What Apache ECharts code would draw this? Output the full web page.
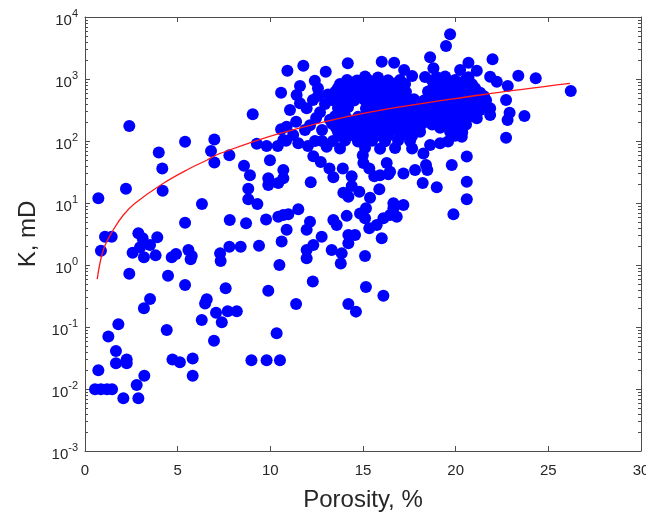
<!DOCTYPE html>
<html><head><meta charset="utf-8">
<script src="https://cdn.jsdelivr.net/npm/echarts@6/dist/echarts.min.js"></script>
<style>html,body{margin:0;padding:0;background:#fff}#c{width:646px;height:515px}</style>
</head><body><div id="c"></div>
<script>
// ---- data (porosity %, permeability mD) ----
const xTickValues = [0, 5, 10, 15, 20, 25, 30];
const yDecadeExponents = [-3, -2, -1, 0, 1, 2, 3, 4];

const lowPoints = [
 [2.39,175],[3.98,65],[5.40,97],[6.98,106],[6.80,69],[7.79,59],[9.05,269],[10.58,601],[10.92,1361],[10.58,155],
 [9.27,90],[9.80,83],[10.40,83],[10.85,101],[9.98,49],[4.17,36],[6.98,45],[8.58,40],[8.90,28],[8.81,17],
 [8.81,11.5],[9.30,9.6],[9.89,25],[9.89,19.5],[10.43,21],[0.72,11.9],[2.21,17],[4.19,15.8],[6.31,9.6],[5.40,4.8],
 [7.81,5.3],[8.69,4.7],[9.77,5.4],[10.43,6.0],[1.08,2.86],[1.44,2.86],[0.86,1.70],[2.88,3.24],[3.11,2.7],[3.90,2.8],
 [2.97,1.93],[3.51,2.1],[2.57,1.58],[3.18,1.33],[3.81,1.43],[4.68,1.33],[4.91,1.5],[5.58,1.75],[5.76,1.4],[5.70,1.24],
 [7.29,1.54],[7.32,1.16],[7.79,1.97],[8.40,1.97],[9.39,2.05],[10.49,1.0],[2.39,0.72],[4.48,0.67],[5.40,0.475],[7.59,0.42],
 [9.89,0.385],[3.51,0.283],[3.18,0.2],[6.57,0.28],[6.48,0.24],[7.07,0.17],[7.70,0.18],[8.19,0.18],[6.30,0.13],[7.38,0.119],
 [1.80,0.111],[4.41,0.0895],[10.34,0.079],[1.26,0.070],[6.96,0.060],[1.67,0.041],[1.67,0.026],[2.25,0.030],[2.25,0.026],[4.72,0.030],
 [5.12,0.027],[5.81,0.031],[5.81,0.0164],[8.98,0.029],[9.80,0.029],[10.52,0.029],[0.72,0.020],[3.20,0.0164],[2.79,0.0116],[0.54,0.0099],
 [0.86,0.0099],[1.19,0.0099],[1.46,0.0099],[2.07,0.0071],[2.88,0.0071]
];

const midPoints = [
 [12.32,57],[12.72,46],[10.70,34],[10.70,25],[13.19,36],[13.40,26],[13.91,36],[14.39,27],[14.99,59],[15.02,44],
 [15.34,36],[15.61,27],[16.37,29],[16.28,44],[17.18,30],[17.81,34],[18.40,41],[18.47,34],[19.79,41],[20.60,56],
 [18.22,21],[18.98,18],[20.60,22],[20.60,11.5],[19.88,6.6],[12.18,21.6],[13.94,14.6],[14.21,12.6],[14.39,18.8],[14.80,15.2],
 [15.38,12.2],[15.88,16.6],[16.64,9.9],[17.18,9.3],[11.51,7.9],[10.70,6.4],[10.97,6.6],[14.12,6.2],[14.84,6.8],[15.16,8.2],
 [15.11,5.7],[15.34,3.9],[15.74,4.4],[16.10,5.7],[16.46,6.4],[16.82,6.0],[16.64,8.2],[13.40,5.3],[13.58,4.4],[12.14,5.0],
 [11.96,3.7],[10.88,3.7],[10.61,2.4],[12.77,2.86],[12.32,2.1],[11.96,1.75],[11.96,1.28],[13.31,1.75],[13.85,1.54],[13.80,1.06],
 [14.21,3.05],[14.57,3.05],[14.21,2.24],[15.11,1.4],[16.01,2.7],[12.29,0.54],[15.16,0.44],[16.10,0.32],[11.39,0.235],[14.21,0.235],
 [14.62,0.177],[15.92,28],[16.46,32],[13.04,81],[19.16,92],[18.62,86],[18.26,63]
];

const highPoints = [
 [19.70,5250],[19.48,3400],[18.62,2240],[20.69,1830],[21.14,1360],[20.24,1400],[20.69,1065],[18.80,1490],[18.98,1065],[16.01,1900],
 [16.68,1830],[17.22,1400],[14.18,1790],[12.99,1310],[12.40,940],[11.78,1640],[11.60,770],[11.42,550],[11.60,405],[11.96,336],
 [11.39,205],[10.88,170],[10.70,104],[11.51,92],[21.86,1090],[21.99,2080],[20.69,800],[20.24,800],[22.22,906],[22.81,771],
 [23.38,1130],[24.32,1025],[26.21,640],[22.72,458],[22.91,286],[22.80,218],[23.71,253],[22.72,113],[21.86,336],[21.86,262],
 [21.14,232],[20.33,150],[20.33,117],[20.96,519],[20.78,431],[20.42,316],[21.32,316],[12.30,460],[12.68,290],[12.14,180],
 [12.79,150],[12.41,100],[13.11,560],[12.57,710],
 [12.57,530],[12.95,395],[12.47,235],[13.22,220],[11.87,150],[12.79,100],[12.03,83],[11.06,316],[11.23,125]
];

const clusterPoints = [
 [15.11,1100],[15.81,1060],[17.65,1120],[18.35,1080],[19.43,1100],
 [14.14,960],[14.68,950],[15.27,970],[16.35,955],[17.00,965],[18.73,950],[19.97,960],[20.51,955],
 [13.76,830],[14.41,850],[14.95,810],[15.49,840],[16.03,820],[16.73,850],[17.27,830],[19.16,800],[19.70,840],[20.88,820],
 [13.65,715],[14.30,720],[14.84,710],[15.38,715],[15.92,720],[16.46,710],[17.00,715],[18.78,720],[19.32,710],[19.86,715],
 [20.40,720],[21.05,710],
 [13.49,620],[14.09,640],[14.62,600],[15.16,630],[15.70,610],[16.24,640],[16.78,600],[17.32,620],[18.51,630],[19.05,600],
 [19.59,640],[20.13,610],[20.67,630],[21.32,600],
 [13.76,530],[14.30,535],[14.84,525],[15.38,530],[15.92,535],[16.46,525],[17.00,530],[18.73,530],
 [19.27,535],[19.81,525],[20.35,530],[20.88,535],[21.53,525],
 [13.33,460],[13.98,470],[14.52,450],[15.06,465],[15.60,455],[16.14,470],[16.68,450],[17.22,460],[17.75,470],[18.29,450],
 [18.83,465],[19.37,455],[19.91,470],[20.45,450],[21.10,460],[21.64,455],
 [13.65,395],[14.19,400],[15.27,395],[15.81,400],[16.35,390],[16.89,395],[17.43,400],[17.97,390],[18.51,395],
 [19.05,400],[19.59,390],[20.13,395],[20.78,400],[21.32,390],
 [13.65,340],[14.19,350],[15.16,335],[15.70,345],[16.24,330],[16.78,350],[17.32,340],[17.86,335],[18.40,350],[18.94,340],
 [19.48,345],[20.02,335],[20.67,340],
 [13.87,295],[15.38,295],[15.92,300],[16.46,290],[17.00,295],[17.54,300],[18.08,290],[18.62,295],
 [19.16,300],[19.70,290],[20.35,295],[20.99,300],
 [13.49,250],[14.03,255],[14.73,245],[15.27,250],[15.81,260],[16.35,245],[16.89,255],[17.43,250],[17.97,245],[18.51,255],
 [19.05,250],[19.59,245],[20.13,255],[20.78,250],
 [13.65,220],[14.19,222],[14.62,218],[15.11,220],[15.60,223],[16.14,218],[16.68,220],[17.22,222],[17.75,218],[18.29,220],
 [18.83,222],[19.37,218],[19.86,220],[20.40,222],
 [13.33,190],[13.87,185],[14.41,195],[14.95,190],[15.49,185],[16.03,195],[16.57,190],[17.11,185],[17.65,195],[18.19,190],
 [18.73,185],[19.37,190],[19.91,195],[20.56,185],
 [13.55,163],[14.09,165],[14.62,161],[15.16,163],[15.70,166],[16.24,162],[16.78,164],[17.32,163],[17.86,161],
 [19.16,163],[20.13,162],
 [13.65,140],[14.30,138],[14.84,142],[15.38,140],[15.92,137],[16.46,142],[17.00,140],[17.54,138],[18.08,141],[19.70,140],[20.35,138],
 [13.87,120],[14.52,122],[15.11,118],[15.70,120],[16.35,121],[17.00,119],[17.65,120],[19.97,121],
 [13.38,100],[14.03,102],[14.73,98],[15.49,101],[16.19,99],[16.89,102],[17.54,100],[19.59,98],
 [13.76,76],[15.11,78],[15.92,75],[16.73,77],[17.65,76]
];

const fitPorosity = [0.66, 0.99, 1.53, 2.07, 2.70, 4.23, 5.67, 6.57, 7.29, 10.52, 15.02, 21.32, 26.17];
const fitK        = [0.59, 1.75, 3.7,  6.4,  9.9,  20.8, 36.3, 49,   63,   133,   280,   552,   851];

// ---- chart ----
const FONT = '"Liberation Sans", Arial, sans-serif';
const AXIS_COLOR = '#4d4d4d';
const TEXT_COLOR = '#262626';

const scatterData = lowPoints.concat(midPoints, highPoints, clusterPoints);
const fitData = fitPorosity.map((p, i) => [p, fitK[i]]);

const minorTickValues = [];
yDecadeExponents.slice(0, -1).forEach(e => {
  for (let m = 2; m <= 9; m++) minorTickValues.push([0, m * Math.pow(10, e)]);
});

const yLabel = {
  margin: 7,
  formatter: v => '{b|10}{s|' + Math.round(Math.log10(v)) + '}',
  rich: {
    b: {fontSize: 15, fontFamily: FONT, color: TEXT_COLOR, padding: [8, 0, 0, 0]},
    s: {fontSize: 11, fontFamily: FONT, color: TEXT_COLOR, padding: [0, 0, 6, 0]}
  }
};

const baseX = {
  type: 'value', min: xTickValues[0], max: xTickValues[xTickValues.length - 1], interval: 5,
  axisLine: {show: true, onZero: false, lineStyle: {color: AXIS_COLOR, width: 1}},
  axisTick: {show: true, inside: true, length: 5, lineStyle: {color: AXIS_COLOR}},
  splitLine: {show: false}
};
const baseY = {
  type: 'log', logBase: 10, min: Math.pow(10, yDecadeExponents[0]), max: Math.pow(10, yDecadeExponents[yDecadeExponents.length - 1]),
  splitNumber: 7,
  axisLine: {show: true, onZero: false, lineStyle: {color: AXIS_COLOR, width: 1}},
  axisTick: {show: true, inside: true, length: 5, lineStyle: {color: AXIS_COLOR}},
  splitLine: {show: false}
};

const chart = echarts.init(document.getElementById('c'), null, {renderer: 'canvas'});
chart.setOption({
  animation: false,
  backgroundColor: '#ffffff',
  grid: {left: 85, right: 5, top: 17, bottom: 64, outerBoundsMode: 'none', containLabel: false},
  xAxis: [
    Object.assign({}, baseX, {
      position: 'bottom',
      axisLabel: {margin: 12, fontSize: 15, fontFamily: FONT, color: TEXT_COLOR},
      name: 'Porosity, %', nameLocation: 'middle', nameGap: 37,
      nameTextStyle: {fontSize: 24, fontFamily: FONT, color: TEXT_COLOR}
    }),
    Object.assign({}, baseX, {position: 'top', axisLabel: {show: false}})
  ],
  yAxis: [
    Object.assign({}, baseY, {
      position: 'left', axisLabel: yLabel,
      name: 'K, mD', nameLocation: 'middle', nameGap: 43, nameRotate: 90,
      nameTextStyle: {fontSize: 24, fontFamily: FONT, color: TEXT_COLOR}
    }),
    Object.assign({}, baseY, {position: 'right', axisLabel: {show: false}})
  ],
  series: [
    {
      type: 'custom', xAxisIndex: 0, yAxisIndex: 0, silent: true, clip: false, z: 1,
      data: minorTickValues,
      renderItem: (params, api) => {
        const v = api.value(1);
        const l = api.coord([xTickValues[0], v]);
        const r = api.coord([xTickValues[xTickValues.length - 1], v]);
        const y = Math.round(l[1]) + 0.5;
        return {type: 'group', children: [
          {type: 'line', shape: {x1: l[0], y1: y, x2: l[0] + 3, y2: y}, style: {stroke: AXIS_COLOR, lineWidth: 1}},
          {type: 'line', shape: {x1: r[0] - 3, y1: y, x2: r[0], y2: y}, style: {stroke: AXIS_COLOR, lineWidth: 1}}
        ]};
      }
    },
    {
      type: 'scatter', xAxisIndex: 0, yAxisIndex: 0, z: 2,
      symbol: 'circle', symbolSize: 12,
      itemStyle: {color: '#0000ff', opacity: 1},
      data: scatterData
    },
    {
      type: 'line', xAxisIndex: 0, yAxisIndex: 0, z: 3,
      smooth: 0.4, showSymbol: false, symbol: 'none',
      lineStyle: {color: '#ff1a1a', width: 1.3},
      data: fitData
    }
  ]
});
</script>
</body></html>
